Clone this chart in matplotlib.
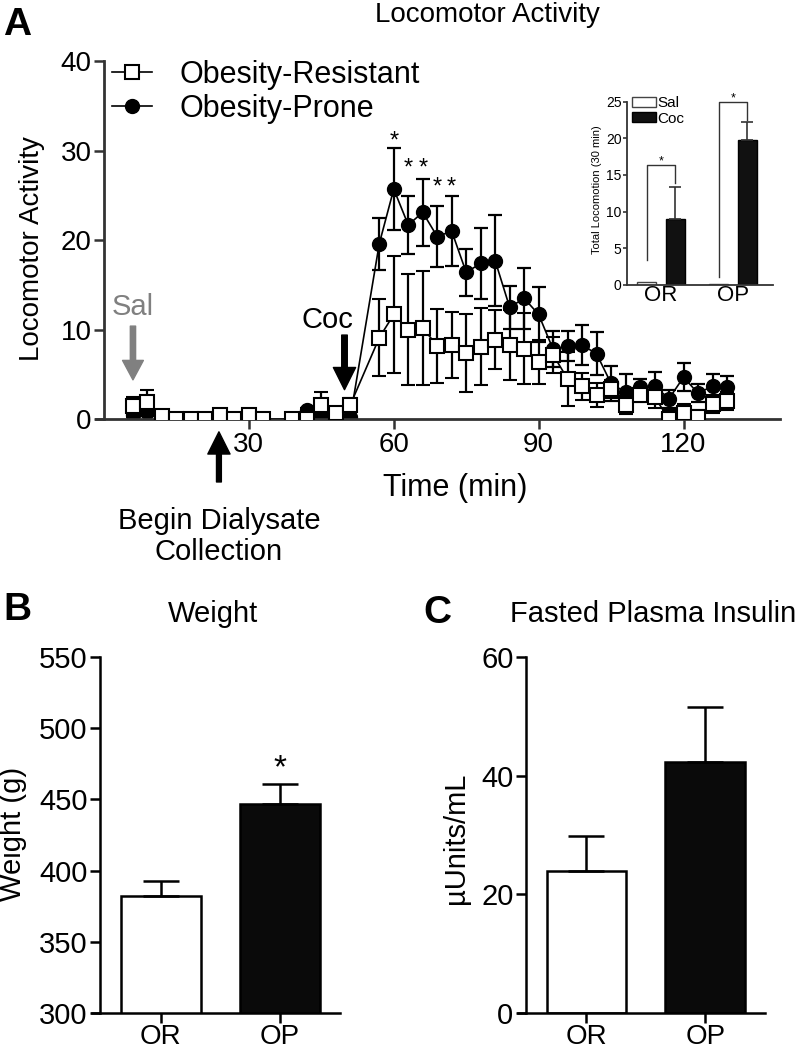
import matplotlib
matplotlib.use("Agg")
import matplotlib.pyplot as plt
from matplotlib.patches import Patch
from matplotlib.lines import Line2D

plt.rcParams['font.family'] = ['Liberation Sans', 'DejaVu Sans']

# ---- panel A: locomotor activity time course ----
time_min = [6, 9, 12, 15, 18, 21, 24, 27, 30, 33, 39, 42, 45, 48, 51,
            57, 60, 63, 66, 69, 72, 75, 78, 81, 84, 87, 90, 93, 96, 99,
            102, 105, 108, 111, 114, 117, 120, 123, 126, 129]
or_mean = [1.5, 1.9, 0.4, 0.0, 0.0, 0.0, 0.5, 0.0, 0.5, 0.0, 0.0, 0.0, 1.6, 0.7, 1.6,
           9.1, 11.7, 10.0, 10.2, 8.2, 8.3, 7.4, 8.1, 8.9, 8.3, 7.9, 6.4, 7.2, 4.5, 3.7,
           2.7, 3.4, 1.6, 2.7, 2.5, 0.0, 0.7, 0.2, 1.7, 2.0]
or_sem = [1.0, 1.4, 0.3, 0.2, 0.2, 0.2, 0.5, 0.2, 0.5, 0.2, 0.2, 0.3, 1.4, 0.5, 0.8,
          4.3, 6.5, 6.2, 6.4, 4.1, 3.7, 4.4, 4.3, 3.3, 3.9, 4.0, 2.5, 2.0, 3.0, 1.5,
          1.3, 1.0, 1.0, 0.8, 1.2, 1.0, 1.0, 0.8, 1.0, 1.0]
op_mean = [0.5, 0.8, 0.0, 0.0, 0.0, 0.0, 0.0, 0.0, 0.0, 0.0, 0.0, 1.0, 0.3, 0.0, 0.2,
           19.6, 25.7, 21.7, 23.1, 20.4, 21.0, 16.4, 17.4, 17.7, 12.5, 13.5, 11.7, 7.8, 8.2, 8.3,
           7.3, 4.0, 3.0, 3.6, 3.7, 2.3, 4.7, 2.9, 3.7, 3.6]
op_sem = [0.3, 0.4, 0.1, 0.1, 0.1, 0.1, 0.1, 0.1, 0.1, 0.1, 0.1, 0.3, 0.3, 0.2, 0.2,
          2.9, 4.6, 3.2, 3.7, 3.4, 3.9, 2.6, 4.0, 5.1, 2.4, 3.4, 3.1, 2.0, 1.7, 2.2,
          2.4, 2.0, 2.0, 0.9, 1.6, 1.0, 1.6, 1.0, 1.3, 1.2]
star_times = [60, 63, 66, 69, 72]
star_heights = [31.8, 28.8, 28.8, 26.7, 26.7]

# inset: total locomotion (30 min)
groups = ['OR', 'OP']
sal_total = [0.4, 0.2]
sal_total_sem = [0.1, 0.1]
coc_total = [9.0, 19.8]
coc_total_sem = [4.4, 2.4]

# ---- panels B and C ----
weight_mean = [382.2, 446.5]
weight_sem = [10.8, 14.0]
insulin_mean = [24.0, 42.2]
insulin_sem = [5.9, 9.4]

SPINE = '#333333'
FS = 20

fig = plt.figure(figsize=(8.03, 10.5), dpi=100)


def px(x, y):
    return x / 803, 1 - y / 1050


ax = fig.add_axes([0.1295, 0.6007, 0.842, 0.3412])
ax.errorbar(time_min, op_mean, yerr=op_sem, fmt='-o', color='black', mfc='black', mec='black',
            ms=10, lw=1.2, elinewidth=1.6, capsize=5, capthick=1.6, zorder=2)
ax.errorbar(time_min, or_mean, yerr=or_sem, fmt='-s', color='black', mfc='white', mec='black',
            ms=10.5, mew=1.5, lw=1.2, elinewidth=1.6, capsize=5, capthick=1.6, zorder=3)
ax.set_xlim(0, 140)
ax.set_ylim(0, 40)
ax.set_xticks([30, 60, 90, 120])
ax.set_yticks([0, 10, 20, 30, 40])
ax.tick_params(direction='out', length=7, width=1.8, labelsize=FS, pad=2, color=SPINE)
for s in ['top', 'right']:
    ax.spines[s].set_visible(False)
for s in ['left', 'bottom']:
    ax.spines[s].set_linewidth(2)
    ax.spines[s].set_color(SPINE)
ax.spines['bottom'].set_bounds(-1.7, 140)

for t, h in zip(star_times, star_heights):
    ax.text(t, h - 1.5, '*', ha='center', va='baseline', fontsize=17)

# arrows and their labels
ax.annotate('', xy=(6, 4.4), xytext=(6, 10.4), annotation_clip=False,
            arrowprops=dict(arrowstyle='simple,head_width=1.5,head_length=1.4,tail_width=0.38',
                            mutation_scale=10, color='#808080', shrinkA=0, shrinkB=0))
ax.text(6, 11.6, 'Sal', ha='center', va='baseline', fontsize=FS + 1, color='#808080')
ax.annotate('', xy=(49.8, 3.3), xytext=(49.8, 9.4), annotation_clip=False,
            arrowprops=dict(arrowstyle='simple,head_width=1.6,head_length=1.6,tail_width=0.4',
                            mutation_scale=10, color='black', shrinkA=0, shrinkB=0))
ax.text(46.2, 10.2, 'Coc', ha='center', va='baseline', fontsize=FS + 1)
ax.annotate('', xy=(23.8, -1.4), xytext=(23.8, -7.0), annotation_clip=False,
            arrowprops=dict(arrowstyle='simple,head_width=1.6,head_length=1.6,tail_width=0.35',
                            mutation_scale=10, color='black', shrinkA=0, shrinkB=0))
ax.text(23.8, -9.8, 'Begin Dialysate\nCollection', ha='center', va='top', fontsize=FS + 1,
        linespacing=1.15, clip_on=False)

fig.text(*px(455, 488), 'Time (min)', ha='center', va='center', fontsize=FS + 2)
fig.text(*px(32, 249), 'Locomotor Activity', rotation=90, ha='center', va='center', fontsize=FS)
fig.text(*px(487, 22), 'Locomotor Activity', ha='center', va='baseline', fontsize=FS)
fig.text(*px(3, 35), 'A', ha='left', va='baseline', fontsize=28, fontweight='bold')

handles = [Line2D([], [], color='black', marker='s', mfc='white', mec='black', ms=10.5, mew=1.5, lw=1.2),
           Line2D([], [], color='black', marker='o', mfc='black', ms=10, lw=1.2)]
ax.legend(handles, ['Obesity-Resistant', 'Obesity-Prone'], loc='upper left',
          bbox_to_anchor=(0.012, 1.003), frameon=False, fontsize=FS + 2, handlelength=1.3,
          handletextpad=0.9, borderaxespad=0, borderpad=0, labelspacing=0.12)

# inset
axi = fig.add_axes([0.781, 0.7286, 0.182, 0.1746])
xg = [0, 1]
xs = [g - 0.2 for g in xg]
xc = [g + 0.2 for g in xg]
axi.bar(xs, sal_total, width=0.26, color='white', edgecolor='#444444', linewidth=1)
axi.bar(xc, coc_total, width=0.26, color='#111111', edgecolor='black', linewidth=1)
axi.errorbar(xc, coc_total, yerr=[[0, 0], coc_total_sem], fmt='none', ecolor='#333333',
             elinewidth=1.2, capsize=4, capthick=1.2)
axi.set_xlim(-0.47, 1.56)
axi.set_ylim(0, 25)
axi.set_yticks([0, 5, 10, 15, 20, 25])
axi.set_xticks(xg)
axi.set_xticklabels(groups)
axi.tick_params(axis='y', labelsize=10, length=3, width=1.2, pad=1, color=SPINE)
axi.tick_params(axis='x', labelsize=16, length=0, pad=0)
for s in ['top', 'right']:
    axi.spines[s].set_visible(False)
for s in ['left', 'bottom']:
    axi.spines[s].set_linewidth(1.3)
    axi.spines[s].set_color(SPINE)
# significance brackets
axi.plot([xs[0], xs[0], xc[0], xc[0]], [3.4, 16.4, 16.4, 13.9], color='#333333', lw=1)
axi.text(0, 16.4, '*', ha='center', va='baseline', fontsize=9)
axi.plot([xs[1], xs[1], xc[1], xc[1]], [1.1, 25.0, 25.0, 22.5], color='#333333', lw=1, clip_on=False)
axi.text(1, 25.0, '*', ha='center', va='baseline', fontsize=9)
axi.legend([Patch(facecolor='white', edgecolor='#444444'), Patch(facecolor='#111111', edgecolor='black')],
           ['Sal', 'Coc'], loc='upper left', bbox_to_anchor=(0.03, 1.03), frameon=False,
           fontsize=11, handlelength=1.6, handleheight=0.6, handletextpad=0.1,
           borderaxespad=0, borderpad=0, labelspacing=0.1)
fig.text(*px(597, 190), 'Total Locomotion (30 min)', rotation=90, ha='center', va='center', fontsize=8)

# panels B and C
def bar_panel(rect, means, sems, ylim, yticks):
    a = fig.add_axes(rect)
    a.bar(xg, means, width=0.67, color=['white', '#0a0a0a'], edgecolor='black', linewidth=1.8)
    a.errorbar(xg, means, yerr=[[0, 0], sems], fmt='none', ecolor='black', elinewidth=1.8,
               capsize=13, capthick=1.8)
    a.set_xlim(-0.509, 1.503)
    a.set_ylim(*ylim)
    a.set_yticks(yticks)
    a.set_xticks(xg)
    a.set_xticklabels(groups)
    a.tick_params(direction='out', length=7, width=1.8, labelsize=FS + 1, pad=2)
    a.tick_params(axis='x', labelsize=FS, pad=0.5)
    for s in ['top', 'right']:
        a.spines[s].set_visible(False)
    for s in ['left', 'bottom']:
        a.spines[s].set_linewidth(1.8)
    a.spines['bottom'].set_bounds(-0.58, 1.503)
    return a


axb = bar_panel([0.1245, 0.0350, 0.299, 0.3396], weight_mean, weight_sem, (300, 550),
                [300, 350, 400, 450, 500, 550])
axb.text(1, 465.2, '*', ha='center', va='baseline', fontsize=24)
axc = bar_panel([0.655, 0.0350, 0.2976, 0.3396], insulin_mean, insulin_sem, (0, 60), [0, 20, 40, 60])

fig.text(*px(3, 620), 'B', ha='left', va='baseline', fontsize=28, fontweight='bold')
fig.text(*px(423, 623), 'C', ha='left', va='baseline', fontsize=28, fontweight='bold')
fig.text(*px(213, 622), 'Weight', ha='center', va='baseline', fontsize=FS + 1)
fig.text(*px(653, 622), 'Fasted Plasma Insulin', ha='center', va='baseline', fontsize=FS + 1)
fig.text(*px(13, 834), 'Weight (g)', rotation=90, ha='center', va='center', fontsize=FS + 1)
fig.text(*px(456, 838), 'µUnits/mL', rotation=90, ha='center', va='center', fontsize=FS + 1)

fig.savefig('out.png', dpi=100)
